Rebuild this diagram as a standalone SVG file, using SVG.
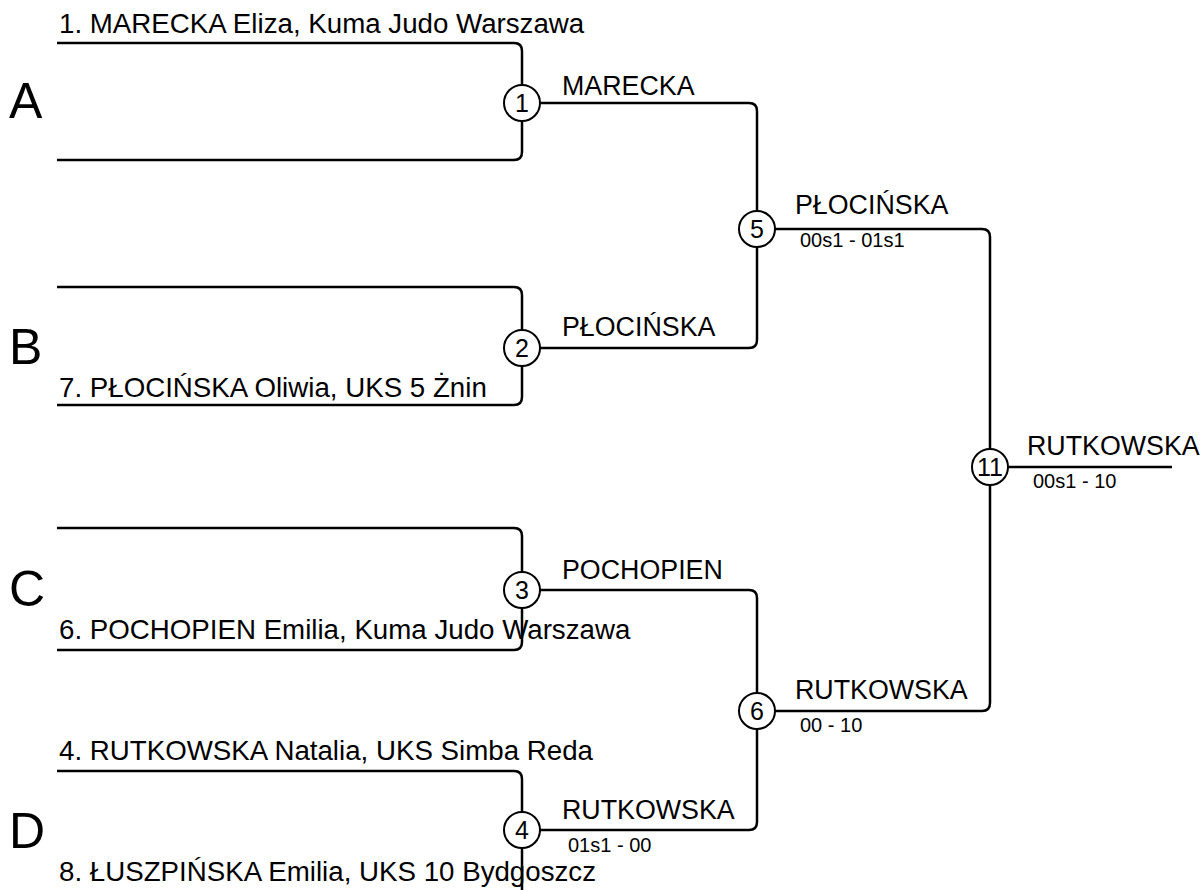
<svg xmlns="http://www.w3.org/2000/svg" width="1204" height="890" viewBox="0 0 1204 890">
<style>
.ln{fill:none;stroke:#000;stroke-width:2.5;stroke-linejoin:round}
.nd circle{fill:#fff;stroke:#000;stroke-width:2}
.num{font-family:"Liberation Sans",Arial,sans-serif;font-size:25px;text-anchor:middle;fill:#000}
.name{font-family:"Liberation Sans",Arial,sans-serif;font-size:27.7px;fill:#000}
.win{font-family:"Liberation Sans",Arial,sans-serif;font-size:26.8px;fill:#000}
.sc{font-family:"Liberation Sans",Arial,sans-serif;font-size:20px;fill:#000}
.pool{font-family:"Liberation Sans",Arial,sans-serif;font-size:50px;fill:#000}
</style>
<rect width="1204" height="890" fill="#fff"/>
<g id="connectors">
<path class="ln" d="M57,43 H514 Q522,43 522,51 V85"/>
<path class="ln" d="M522,121 V152 Q522,160 514,160 H57"/>
<path class="ln" d="M57,287 H514 Q522,287 522,295 V330"/>
<path class="ln" d="M522,366 V397 Q522,405 514,405 H57"/>
<path class="ln" d="M57,528 H514 Q522,528 522,536 V572"/>
<path class="ln" d="M522,608 V642 Q522,650 514,650 H57"/>
<path class="ln" d="M57,771 H514 Q522,771 522,779 V812"/>
<path class="ln" d="M522,848 V900"/>
<path class="ln" d="M540,103 H749 Q757,103 757,111 V211"/>
<path class="ln" d="M540,348 H749 Q757,348 757,340 V247"/>
<path class="ln" d="M540,590 H749 Q757,590 757,598 V693"/>
<path class="ln" d="M540,830 H749 Q757,830 757,822 V729"/>
<path class="ln" d="M775,229 H982 Q990,229 990,237 V449"/>
<path class="ln" d="M775,711 H982 Q990,711 990,703 V485"/>
<path class="ln" d="M1008,467 H1172"/>
</g>
<g id="pools">
<text class="pool" x="9" y="118">A</text>
<text class="pool" x="9" y="364">B</text>
<text class="pool" x="9" y="606">C</text>
<text class="pool" x="9" y="848">D</text>
</g>
<g id="competitors">
<text class="name" x="59" y="33">1. MARECKA Eliza, Kuma Judo Warszawa</text>
<text class="name" x="59" y="397">7. PŁOCIŃSKA Oliwia, UKS 5 Żnin</text>
<text class="name" x="59" y="639">6. POCHOPIEN Emilia, Kuma Judo Warszawa</text>
<text class="name" x="59" y="760">4. RUTKOWSKA Natalia, UKS Simba Reda</text>
<text class="name" x="59" y="881">8. ŁUSZPIŃSKA Emilia, UKS 10 Bydgoszcz</text>
</g>
<g id="n1" class="nd"><circle cx="522" cy="103" r="18"/><text class="num" x="522" y="112">1</text><text class="win" x="562" y="95">MARECKA</text></g>
<g id="n2" class="nd"><circle cx="522" cy="348" r="18"/><text class="num" x="522" y="357">2</text><text class="win" x="562" y="336">PŁOCIŃSKA</text></g>
<g id="n3" class="nd"><circle cx="522" cy="590" r="18"/><text class="num" x="522" y="599">3</text><text class="win" x="562" y="579">POCHOPIEN</text></g>
<g id="n4" class="nd"><circle cx="522" cy="830" r="18"/><text class="num" x="522" y="839">4</text><text class="win" x="562" y="819">RUTKOWSKA</text><text class="sc" x="568" y="852">01s1 - 00</text></g>
<g id="n5" class="nd"><circle cx="757" cy="229" r="18"/><text class="num" x="757" y="238">5</text><text class="win" x="795" y="214">PŁOCIŃSKA</text><text class="sc" x="800" y="247">00s1 - 01s1</text></g>
<g id="n6" class="nd"><circle cx="757" cy="711" r="18"/><text class="num" x="757" y="720">6</text><text class="win" x="795" y="699">RUTKOWSKA</text><text class="sc" x="800" y="732">00 - 10</text></g>
<g id="n11" class="nd"><circle cx="990" cy="467" r="18"/><text class="num" x="990" y="476">11</text><text class="win" x="1027" y="455">RUTKOWSKA</text><text class="sc" x="1033" y="488">00s1 - 10</text></g>
</svg>
